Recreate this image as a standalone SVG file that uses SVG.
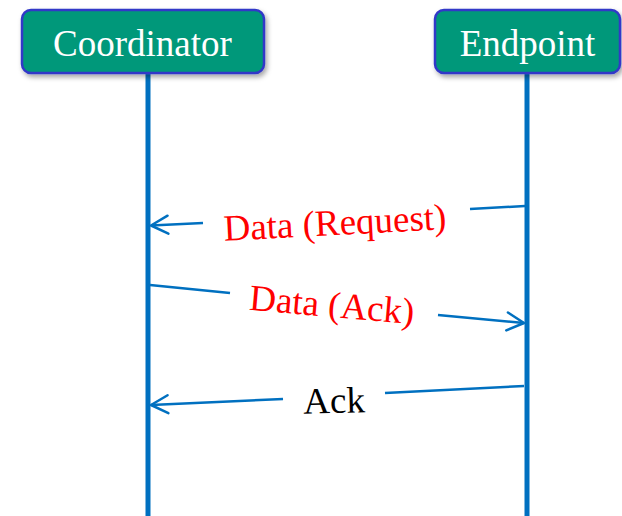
<svg xmlns="http://www.w3.org/2000/svg" width="622" height="516" viewBox="0 0 622 516">
  <style>
    .box { fill: #00987a; stroke: #3038c8; stroke-width: 2.5; }
    .box-label { font-family: "Liberation Serif", "Times New Roman", serif; font-size: 37px; fill: #ffffff; text-anchor: middle; }
    .lifeline { stroke: #0070c0; stroke-width: 5; fill: none; }
    .msg { stroke: #0070c0; stroke-width: 2.5; fill: none; }
    .msg-label { font-family: "Liberation Serif", "Times New Roman", serif; font-size: 37px; text-anchor: middle; }
    .red { fill: #ff0000; }
    .black { fill: #000000; }
  </style>
  <defs>
    <filter id="shadow" x="-10%" y="-20%" width="130%" height="160%">
      <feDropShadow dx="2" dy="3" stdDeviation="2.5" flood-color="#000000" flood-opacity="0.35"/>
    </filter>
    <marker id="open-arrow" markerUnits="userSpaceOnUse" viewBox="-20 -12 24 24" markerWidth="24" markerHeight="24" refX="0" refY="0" orient="auto" overflow="visible">
      <path d="M-17,-9 L0,0 L-17,9" fill="none" stroke="#0070c0" stroke-width="2.5" stroke-linecap="round" stroke-linejoin="round"/>
    </marker>
  </defs>

  <!-- lifelines -->
  <g id="lifelines">
    <line class="lifeline" x1="148" y1="70" x2="148" y2="516"/>
    <line class="lifeline" x1="527" y1="70" x2="527" y2="516"/>
  </g>

  <!-- participants -->
  <g id="coordinator">
    <rect class="box" x="22" y="10" width="242" height="63" rx="9" ry="9" filter="url(#shadow)"/>
    <text class="box-label" x="142.5" y="56">Coordinator</text>
  </g>
  <g id="endpoint">
    <rect class="box" x="435" y="10" width="185" height="63" rx="9" ry="9" filter="url(#shadow)"/>
    <text class="box-label" x="527.5" y="56">Endpoint</text>
  </g>

  <!-- messages -->
  <g id="connectors">
    <path class="msg" d="M525,206 L470,209"/>
    <path class="msg" d="M203,223 L151,225.5" marker-end="url(#open-arrow)"/>
    <path class="msg" d="M150,285 L230,293"/>
    <path class="msg" d="M438,315 L524,323" marker-end="url(#open-arrow)"/>
    <path class="msg" d="M524,386 L385,393"/>
    <path class="msg" d="M283,399 L151,405" marker-end="url(#open-arrow)"/>
  </g>

  <g id="labels">
    <text class="msg-label red" x="335" y="235" transform="rotate(-3 335 224)">Data (Request)</text>
    <text class="msg-label red" x="332" y="317" transform="rotate(5 332 305)">Data (Ack)</text>
    <text class="msg-label black" x="334" y="413" transform="rotate(-1.5 334 400)">Ack</text>
  </g>
</svg>
